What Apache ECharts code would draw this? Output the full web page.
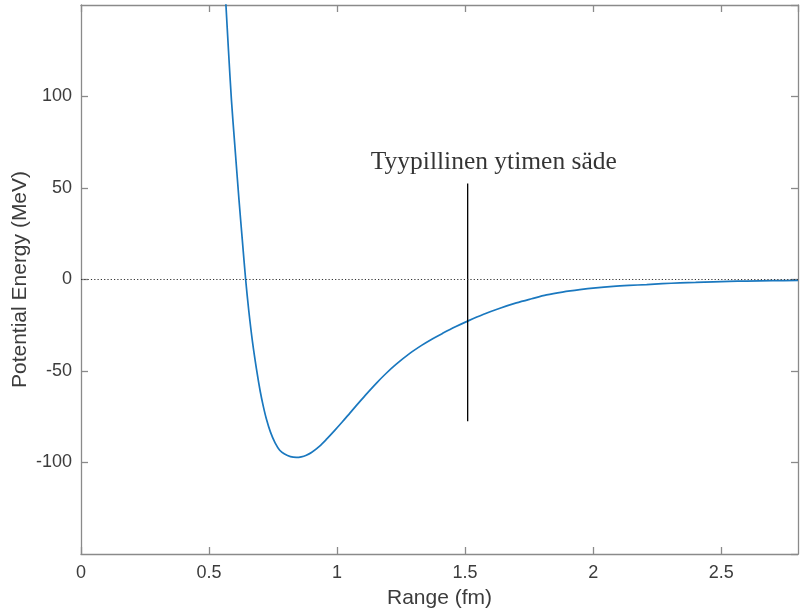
<!DOCTYPE html>
<html>
<head>
<meta charset="utf-8">
<script src="https://cdn.jsdelivr.net/npm/echarts@6/dist/echarts.min.js"></script>
<style>html,body{margin:0;padding:0;background:#fff}#c{width:801px;height:610px}</style>
</head>
<body>
<div id="c"></div>
<script>
// Range (fm)
var rangeFm = [0.556, 0.566, 0.576, 0.5875, 0.60, 0.617, 0.63, 0.643, 0.655, 0.67, 0.685, 0.70, 0.712, 0.724, 0.74, 0.758, 0.776, 0.795, 0.818, 0.841, 0.86, 0.88, 0.90, 0.932, 0.96, 0.99, 1.02, 1.05, 1.08, 1.11, 1.154, 1.19, 1.23, 1.284, 1.33, 1.37, 1.414, 1.46, 1.512, 1.57, 1.636, 1.70, 1.76, 1.818, 1.88, 1.948, 2.01, 2.078, 2.14, 2.209, 2.27, 2.339, 2.40, 2.469, 2.53, 2.599, 2.70, 2.80];
// Potential energy (MeV)
var energyMeV = [175, 150, 125, 98, 74.5, 43.5, 21.5, 0, -16.8, -34.4, -48.7, -61.2, -69.3, -76.2, -83.4, -89.3, -93.3, -95.4, -96.8, -97.2, -96.9, -96.0, -94.5, -91.0, -87.1, -82.6, -77.9, -73.0, -68.1, -63.3, -56.6, -51.5, -46.4, -40.4, -36.0, -32.6, -29.3, -26.0, -22.6, -19.1, -15.7, -12.8, -10.5, -8.4, -6.85, -5.55, -4.6, -3.8, -3.25, -2.75, -2.3, -1.85, -1.6, -1.3, -1.05, -0.85, -0.65, -0.45];
// Annotation: typical nuclear radius marker
var radiusX = [1.51, 1.51];
var radiusY = [52.5, -77.5];
var annotationText = 'Tyypillinen ytimen säde';
var annotationPos = [1.612, 64];
// Axis ranges / ticks
var xMin = 0, xMax = 2.8, xStep = 0.5;
var yMin = -150, yMax = 150, yStep = 50;

var axisGray = '#8a8a8a';
var labelColor = '#3c3c3c';
var sans = '"Liberation Sans", Arial, Helvetica, sans-serif';

function zip(a, b) { return a.map(function (v, i) { return [v, b[i]]; }); }

var chart = echarts.init(document.getElementById('c'), null, {renderer: 'canvas'});
var baseX = {
  type: 'value', min: xMin, max: xMax, interval: xStep,
  axisLine: {show: true, onZero: false, lineStyle: {color: axisGray, width: 1.3}},
  axisTick: {show: true, inside: true, length: 7, lineStyle: {color: axisGray, width: 1.3}},
  splitLine: {show: false}
};
var baseY = {
  type: 'value', min: yMin, max: yMax, interval: yStep,
  axisLine: {show: true, onZero: false, lineStyle: {color: axisGray, width: 1.3}},
  axisTick: {show: true, inside: true, length: 7, lineStyle: {color: axisGray, width: 1.3}},
  splitLine: {show: false}
};

chart.setOption({
  animation: false,
  backgroundColor: '#fff',
  grid: {left: 81, right: 3, top: 5, bottom: 56, containLabel: false, outerBoundsMode: 'none'},
  xAxis: [
    Object.assign({}, baseX, {
      position: 'bottom',
      name: 'Range (fm)', nameLocation: 'middle', nameGap: 34, nameMoveOverlap: false,
      nameTextStyle: {color: labelColor, fontSize: 21, fontFamily: sans},
      axisLabel: {show: true, margin: 10, color: labelColor, fontSize: 18, fontFamily: sans, showMaxLabel: false,
        formatter: function (v) { return String(+v.toFixed(2)); }}
    }),
    Object.assign({}, baseX, {position: 'top', axisLabel: {show: false}})
  ],
  yAxis: [
    Object.assign({}, baseY, {
      position: 'left',
      name: 'Potential Energy (MeV)', nameLocation: 'middle', nameGap: 50, nameRotate: 90, nameMoveOverlap: false,
      nameTextStyle: {color: labelColor, fontSize: 21, fontFamily: sans},
      axisLabel: {show: true, margin: 9, color: labelColor, fontSize: 18, fontFamily: sans,
        showMinLabel: false, showMaxLabel: false}
    }),
    Object.assign({}, baseY, {position: 'right', axisLabel: {show: false}})
  ],
  series: [
    {
      type: 'line', xAxisIndex: 0, yAxisIndex: 0,
      data: zip(rangeFm, energyMeV),
      showSymbol: false, smooth: 0.3, clip: true,
      lineStyle: {color: '#1a78bf', width: 1.7},
      markLine: {
        silent: true, symbol: ['none', 'none'], label: {show: false},
        lineStyle: {color: '#333', width: 1.2, type: [1.2, 2.1]},
        data: [{yAxis: 0}]
      },
      z: 3
    },
    {
      type: 'line', xAxisIndex: 0, yAxisIndex: 0,
      data: zip(radiusX, radiusY),
      showSymbol: false, lineStyle: {color: '#000', width: 1.3}, z: 4
    },
    {
      type: 'scatter', xAxisIndex: 0, yAxisIndex: 0,
      data: [annotationPos], symbolSize: 0,
      label: {show: true, position: 'inside', formatter: annotationText,
        color: '#000', fontSize: 25.5, fontFamily: '"Liberation Serif", "Times New Roman", serif',
        align: 'center', verticalAlign: 'middle'},
      z: 5
    }
  ]
});
</script>
</body>
</html>
